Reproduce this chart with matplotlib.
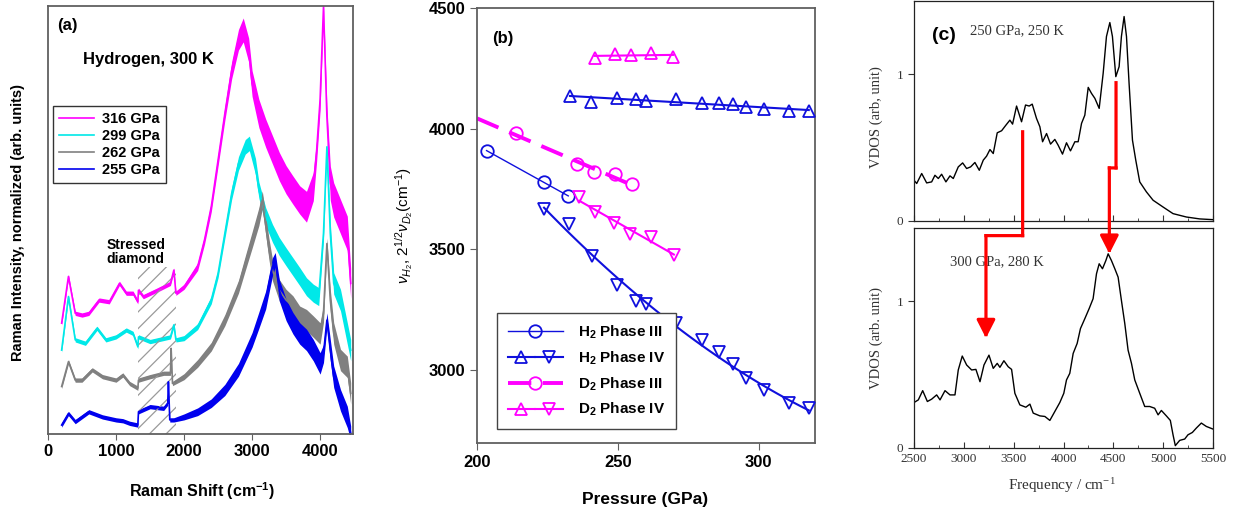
import numpy as np
import matplotlib
matplotlib.use('Agg')
import matplotlib.pyplot as plt
from matplotlib.patches import Rectangle, ConnectionPatch
from matplotlib.legend_handler import HandlerTuple
from matplotlib.lines import Line2D
from matplotlib.ticker import MultipleLocator

plt.rcParams['font.family'] = ['Liberation Sans', 'DejaVu Sans']
plt.rcParams['mathtext.fontset'] = 'custom'
plt.rcParams['mathtext.rm'] = 'Liberation Sans'
plt.rcParams['mathtext.it'] = 'Liberation Sans:italic'
plt.rcParams['mathtext.bf'] = 'Liberation Sans:bold'
plt.rcParams['hatch.linewidth'] = 0.9

# ---------------- panel (a): Raman spectra (offset, arb. units) ----------------
SHIFT_316 = [200, 300, 400, 500, 600, 750, 900, 1050, 1150, 1250, 1320, 1330, 1400, 1600, 1800, 1850, 1880,
             2000, 2200, 2300, 2400, 2500, 2600, 2700, 2800, 2870, 2950, 3000, 3100, 3200, 3300, 3400, 3500,
             3600, 3700, 3800, 3900, 3950, 4000, 4050, 4100, 4150, 4200, 4300, 4400, 4450]
INT_316 = [25.9, 36.8, 28.2, 27.8, 28.2, 31.3, 30.9, 35.2, 32.9, 32.9, 30.9, 33.6, 32.1, 33.6, 35.2, 38.3, 32.9,
           34.4, 39.1, 45.3, 53.1, 64.0, 74.9, 85.0, 92.1, 94.4, 89.7, 81.9, 74.9, 70.3, 66.4, 62.5, 59.4,
           57.0, 54.7, 53.1, 57.8, 66.4, 78.1, 99.8, 74.2, 58.6, 54.7, 50.8, 46.9, 35.2]
NOISE_316 = [0.5, 0.5, 0.5, 0.5, 0.5, 0.5, 0.5, 0.5, 0.5, 0.5, 0.5, 0.5, 0.5, 0.5, 0.5, 0.5, 0.5,
             0.6, 0.9, 1.0, 1.2, 1.4, 1.6, 2.0, 2.4, 2.8, 2.8, 3.0, 3.3, 3.3, 3.3, 3.3, 3.3,
             3.3, 3.3, 3.6, 3.3, 2.5, 2.5, 1.0, 2.5, 4.0, 4.0, 4.0, 4.0, 3.5]

SHIFT_299 = [200, 300, 400, 550, 720, 850, 1000, 1150, 1250, 1320, 1330, 1500, 1800, 1850, 1880,
             2000, 2200, 2400, 2500, 2600, 2700, 2800, 2900, 2960, 3050, 3100, 3200, 3300, 3400, 3500,
             3600, 3700, 3800, 3900, 3980, 4050, 4100, 4150, 4200, 4300, 4400, 4450]
INT_299 = [19.6, 32.1, 22.0, 21.2, 24.7, 22.0, 22.7, 24.3, 23.5, 20.4, 22.7, 21.6, 22.7, 25.5, 22.0,
           22.4, 25.1, 31.3, 37.5, 46.9, 56.2, 63.2, 67.1, 67.9, 62.5, 57.0, 50.8, 46.9, 43.8, 41.4,
           39.1, 36.8, 34.4, 32.9, 32.1, 46.9, 67.1, 46.9, 35.2, 31.3, 23.5, 19.6]
NOISE_299 = [0.5, 0.5, 0.5, 0.5, 0.5, 0.5, 0.5, 0.5, 0.5, 0.5, 0.5, 0.5, 0.5, 0.5, 0.5,
             0.6, 0.7, 0.9, 1.0, 1.2, 1.4, 1.6, 1.7, 1.7, 1.9, 1.9, 2.1, 2.1, 2.1, 2.1,
             2.1, 2.1, 2.1, 2.1, 2.1, 1.7, 1.0, 2.5, 2.5, 2.5, 2.5, 2.5]

SHIFT_262 = [200, 300, 400, 500, 650, 800, 1000, 1100, 1200, 1320, 1330, 1500, 1700, 1800, 1810, 1830,
             2000, 2200, 2400, 2600, 2800, 2900, 3000, 3100, 3150, 3250, 3300, 3400, 3500, 3600,
             3700, 3800, 3900, 4000, 4050, 4100, 4150, 4200, 4300, 4400, 4450]
INT_262 = [11.1, 16.9, 12.6, 12.6, 15.0, 13.4, 12.6, 13.8, 11.8, 10.7, 12.6, 13.4, 14.2, 14.2, 20.0, 11.8,
           13.4, 16.5, 20.4, 26.6, 34.4, 39.9, 45.3, 50.8, 54.7, 43.0, 38.3, 33.6, 31.3, 29.8,
           27.4, 26.6, 25.1, 23.5, 28.2, 44.5, 31.3, 23.5, 17.3, 15.7, 9.5]
NOISE_262 = [0.5, 0.5, 0.5, 0.5, 0.5, 0.5, 0.5, 0.5, 0.5, 0.5, 0.5, 0.5, 0.5, 0.5, 0.5, 0.5,
             0.7, 0.9, 1.0, 1.3, 1.5, 1.7, 1.9, 2.1, 2.1, 2.5, 2.5, 2.5, 2.5, 2.5,
             2.5, 2.5, 2.5, 2.5, 2.1, 1.3, 2.5, 2.5, 2.5, 2.5, 2.5]

SHIFT_255 = [200, 300, 400, 600, 800, 1000, 1100, 1200, 1320, 1330, 1500, 1700, 1760, 1770, 1790, 1850,
             2000, 2200, 2400, 2600, 2800, 3000, 3100, 3200, 3300, 3340, 3400, 3500, 3600, 3700,
             3800, 3900, 4000, 4050, 4100, 4150, 4200, 4300, 4400, 4450]
INT_255 = [2.1, 4.8, 2.9, 5.2, 4.0, 3.3, 3.1, 2.5, 2.1, 5.2, 6.4, 6.0, 7.2, 12.2, 3.3, 3.3,
           4.0, 5.2, 7.2, 10.3, 15.0, 22.0, 26.6, 31.3, 39.1, 40.7, 33.6, 29.0, 25.9, 23.5,
           22.0, 19.6, 16.5, 18.8, 26.6, 19.6, 13.4, 7.9, 4.0, 0.2]
NOISE_255 = [0.5, 0.5, 0.5, 0.5, 0.5, 0.5, 0.5, 0.5, 0.5, 0.5, 0.5, 0.5, 0.5, 0.5, 0.5, 0.5,
             0.7, 0.9, 1.0, 1.3, 1.5, 1.7, 1.9, 2.1, 2.1, 1.7, 2.5, 2.5, 2.5, 2.5,
             2.5, 2.5, 2.5, 2.1, 1.7, 2.5, 2.5, 2.5, 2.5, 1.7]

RAMAN_LABELS = ['316 GPa', '299 GPa', '262 GPa', '255 GPa']
RAMAN_COLORS = ['#ff00ff', '#00e8e8', '#808080', '#0000ee']
STRESSED_DIAMOND = (1330, 1880)

# ---------------- panel (b): vibron frequency vs pressure ----------------
P_H2_III = [203.4, 223.8, 232.4]
NU_H2_III = [3909, 3778, 3721]
P_H2_IV_UP = [233.0, 240.3, 249.8, 256.6, 259.9, 270.6, 279.9, 285.8, 290.9, 295.6, 301.8, 310.7, 317.8]
NU_H2_IV_UP = [4135, 4112, 4128, 4123, 4116, 4123, 4108, 4108, 4102, 4089, 4082, 4075, 4073]
P_H2_IV_DN = [223.8, 232.5, 241.0, 249.8, 256.6, 259.9, 270.8, 279.9, 285.8, 290.9, 295.6, 301.8, 310.7, 317.8]
NU_H2_IV_DN = [3666, 3605, 3473, 3353, 3286, 3274, 3194, 3125, 3076, 3025, 2969, 2918, 2862, 2842]
P_D2_III = [213.8, 235.6, 241.5, 248.9, 254.9]
NU_D2_III = [3981, 3854, 3819, 3812, 3770]
P_D2_IV_UP = [241.8, 248.9, 254.8, 261.9, 269.6]
NU_D2_IV_UP = [4294, 4309, 4305, 4312, 4298]
P_D2_IV_DN = [236.3, 241.8, 248.6, 254.5, 261.9, 269.9]
NU_D2_IV_DN = [3718, 3656, 3611, 3563, 3553, 3477]

# ---------------- panel (c): VDOS ----------------
FREQ_250 = [2500, 2527, 2577, 2627, 2677, 2710, 2744, 2777, 2820, 2861, 2894, 2944, 2988, 3028, 3068, 3111,
            3155, 3195, 3228, 3262, 3295, 3335, 3379, 3422, 3462, 3489, 3529, 3579, 3619, 3656, 3686, 3729,
            3763, 3790, 3830, 3870, 3913, 3946, 3990, 4030, 4070, 4114, 4147, 4181, 4214, 4248, 4281, 4315,
            4358, 4398, 4431, 4465, 4491, 4525, 4558, 4581, 4608, 4632, 4658, 4692, 4725, 4765, 4832, 4899,
            4999, 5099, 5233, 5367, 5500]
VDOS_250 = [0.277, 0.255, 0.323, 0.259, 0.266, 0.311, 0.289, 0.318, 0.266, 0.307, 0.289, 0.368, 0.395, 0.357,
            0.368, 0.398, 0.345, 0.414, 0.441, 0.486, 0.459, 0.600, 0.614, 0.652, 0.686, 0.659, 0.782, 0.675,
            0.789, 0.782, 0.795, 0.698, 0.641, 0.539, 0.595, 0.523, 0.555, 0.516, 0.455, 0.532, 0.477, 0.539,
            0.539, 0.664, 0.720, 0.909, 0.868, 0.834, 0.766, 1.005, 1.255, 1.350, 1.255, 0.982, 1.050, 1.255,
            1.391, 1.255, 0.936, 0.550, 0.414, 0.266, 0.198, 0.141, 0.095, 0.050, 0.027, 0.014, 0.009]
FREQ_300 = [2500, 2543, 2587, 2634, 2677, 2727, 2761, 2811, 2861, 2911, 2944, 2984, 3028, 3078, 3121, 3162,
            3202, 3252, 3295, 3335, 3362, 3402, 3445, 3479, 3512, 3562, 3622, 3663, 3696, 3763, 3813, 3863,
            3913, 3963, 4003, 4030, 4063, 4097, 4137, 4170, 4214, 4257, 4297, 4331, 4358, 4391, 4425, 4448,
            4481, 4515, 4548, 4581, 4615, 4648, 4682, 4715, 4765, 4815, 4865, 4915, 4949, 4982, 5032, 5072,
            5099, 5122, 5166, 5216, 5249, 5293, 5333, 5383, 5433, 5500]
VDOS_300 = [0.310, 0.328, 0.391, 0.317, 0.333, 0.362, 0.328, 0.391, 0.362, 0.362, 0.532, 0.627, 0.566, 0.532,
            0.536, 0.452, 0.566, 0.633, 0.543, 0.577, 0.550, 0.595, 0.554, 0.536, 0.373, 0.294, 0.278, 0.299,
            0.238, 0.219, 0.215, 0.188, 0.249, 0.310, 0.373, 0.464, 0.509, 0.645, 0.713, 0.814, 0.882, 0.950,
            1.018, 1.188, 1.256, 1.222, 1.278, 1.324, 1.278, 1.222, 1.165, 1.007, 0.848, 0.667, 0.577, 0.464,
            0.373, 0.283, 0.283, 0.271, 0.226, 0.256, 0.219, 0.188, 0.090, 0.016, 0.052, 0.061, 0.090, 0.106,
            0.136, 0.170, 0.147, 0.129]

# red guide arrows: (x, y) in panel-c data units, 'u' = upper panel, 'l' = lower panel
ARROW_1 = [((3590, 0.607), 'u'), ((3590, 1.448), 'l'), ((3222, 1.448), 'l'), ((3222, 0.749), 'l')]
ARROW_2 = [((4527, 0.941), 'u'), ((4527, 0.361), 'u'), ((4460, 0.361), 'u'), ((4460, 1.324), 'l')]

BLUE = '#1010dd'
MAGENTA = '#ff00ff'
SPINE = '#606060'

fig = plt.figure(figsize=(12.38, 5.12), dpi=100)

# ================= (a) =================
ax_a = fig.add_axes([0.0388, 0.1523, 0.2464, 0.836])
spectra = [(SHIFT_316, INT_316, NOISE_316), (SHIFT_299, INT_299, NOISE_299),
           (SHIFT_262, INT_262, NOISE_262), (SHIFT_255, INT_255, NOISE_255)]
for (s, y, n), col, lab in zip(spectra, RAMAN_COLORS, RAMAN_LABELS):
    s = np.array(s)
    y = np.array(y)
    n = np.array(n)
    ax_a.fill_between(s, y - n, y + n, color=col, lw=0)
    ax_a.plot(s, y, color=col, lw=1.2, label=lab)
ax_a.add_patch(Rectangle((STRESSED_DIAMOND[0], 0), STRESSED_DIAMOND[1] - STRESSED_DIAMOND[0], 39,
                         fill=False, hatch='//', edgecolor='#9a9a9a', lw=0))
ax_a.set_xlim(0, 4485)
ax_a.set_ylim(0, 100)
ax_a.set_yticks([])
ax_a.set_xticks([0, 1000, 2000, 3000, 4000])
ax_a.tick_params(axis='x', direction='out', length=4, color=SPINE, labelsize=12)
for t in ax_a.get_xticklabels():
    t.set_fontweight('bold')
for sp in ax_a.spines.values():
    sp.set_color(SPINE)
    sp.set_linewidth(1.3)
ax_a.set_xlabel(r'Raman Shift (cm$^{\mathbf{-1}}$)', fontsize=11.5, fontweight='bold')
ax_a.xaxis.set_label_coords(0.505, -0.107)
ax_a.set_ylabel('Raman Intensity, normalized (arb. units)', fontsize=10.5, fontweight='bold')
ax_a.yaxis.set_label_coords(-0.075, 0.495)
ax_a.text(0.03, 0.955, '(a)', transform=ax_a.transAxes, fontsize=12, fontweight='bold', va='center')
ax_a.text(0.115, 0.875, 'Hydrogen, 300 K', transform=ax_a.transAxes, fontsize=12, fontweight='bold', va='center')
ax_a.text(1290, 42.5, 'Stressed\ndiamond', fontsize=10, fontweight='bold', ha='center', va='center',
          linespacing=1.0)
leg_a = ax_a.legend(loc='upper left', bbox_to_anchor=(0.016, 0.766), borderaxespad=0, handlelength=2.4,
                    prop=dict(weight='bold', size=10.5), labelspacing=0.2, fancybox=False,
                    edgecolor='#333333', framealpha=1, borderpad=0.4, handletextpad=0.6)
leg_a.get_frame().set_linewidth(1.0)

# ================= (b) =================
ax_b = fig.add_axes([0.3853, 0.1348, 0.2730, 0.8496])


def fit_line(p, nu, deg, color, ls, lw, start=None):
    coef = np.polyfit(p, nu, deg)
    xs = np.linspace(min(p) if start is None else start, max(p), 60)
    ax_b.plot(xs, np.polyval(coef, xs), color=color, ls=ls, lw=lw, zorder=2)


fit_line(P_H2_III, NU_H2_III, 1, BLUE, '-', 1.0)
fit_line(P_H2_IV_UP, NU_H2_IV_UP, 1, BLUE, '-', 1.5)
fit_line(P_H2_IV_DN, NU_H2_IV_DN, 2, BLUE, '-', 1.5)
fit_line(P_D2_III, NU_D2_III, 1, MAGENTA, (0, (6, 3)), 2.8, start=200)
fit_line(P_D2_IV_UP, NU_D2_IV_UP, 1, MAGENTA, '-', 1.5)
fit_line(P_D2_IV_DN, NU_D2_IV_DN, 1, MAGENTA, '-', 1.5)

mk = dict(ls='none', mfc='none', ms=9, mew=1.3, zorder=3)
ax_b.plot(P_H2_III, NU_H2_III, marker='o', mec=BLUE, **mk)
ax_b.plot(P_H2_IV_UP, NU_H2_IV_UP, marker='^', mec=BLUE, **mk)
ax_b.plot(P_H2_IV_DN, NU_H2_IV_DN, marker='v', mec=BLUE, **mk)
ax_b.plot(P_D2_III, NU_D2_III, marker='o', mec=MAGENTA, **mk)
ax_b.plot(P_D2_IV_UP, NU_D2_IV_UP, marker='^', mec=MAGENTA, **mk)
ax_b.plot(P_D2_IV_DN, NU_D2_IV_DN, marker='v', mec=MAGENTA, **mk)

ax_b.set_xlim(200, 320)
ax_b.set_ylim(2698, 4500)
ax_b.set_xticks([200, 250, 300])
ax_b.set_yticks([3000, 3500, 4000, 4500])
ax_b.tick_params(direction='out', length=5, color=SPINE, labelsize=12)
for t in ax_b.get_xticklabels() + ax_b.get_yticklabels():
    t.set_fontweight('bold')
for sp in ax_b.spines.values():
    sp.set_color(SPINE)
    sp.set_linewidth(1.3)
ax_b.set_xlabel('Pressure (GPa)', fontsize=12.5, fontweight='bold')
ax_b.xaxis.set_label_coords(0.497, -0.113)
ax_b.set_ylabel(r'$\nu_{H_2}$, $2^{1/2}\nu_{D_2}$(cm$^{-1}$)', fontsize=11)
ax_b.yaxis.set_label_coords(-0.183, 0.5)
ax_b.text(0.044, 0.93, '(b)', transform=ax_b.transAxes, fontsize=12, fontweight='bold', va='center')

lh = dict(mfc='none', ms=9, mew=1.3)
h_h2_iii = Line2D([], [], color=BLUE, lw=1.0, marker='o', mec=BLUE, **lh)
h_h2_iv = (Line2D([], [], color=BLUE, lw=1.5, marker='^', mec=BLUE, **lh),
           Line2D([], [], color=BLUE, lw=1.5, marker='v', mec=BLUE, **lh))
h_d2_iii = Line2D([], [], color=MAGENTA, lw=2.8, ls=(0, (6, 3)), marker='o', mec=MAGENTA, **lh)
h_d2_iv = (Line2D([], [], color=MAGENTA, lw=1.5, marker='^', mec=MAGENTA, **lh),
           Line2D([], [], color=MAGENTA, lw=1.5, marker='v', mec=MAGENTA, **lh))
leg_b = ax_b.legend([h_h2_iii, h_h2_iv, h_d2_iii, h_d2_iv],
                    [r'H$_\mathbf{2}$ Phase III', r'H$_\mathbf{2}$ Phase IV',
                     r'D$_\mathbf{2}$ Phase III', r'D$_\mathbf{2}$ Phase IV'],
                    handler_map={tuple: HandlerTuple(ndivide=None, pad=0)},
                    loc='upper left', bbox_to_anchor=(0.059, 0.299), borderaxespad=0, handlelength=3.6,
                    prop=dict(weight='bold', size=11), labelspacing=0.55, fancybox=False,
                    edgecolor='#444444', framealpha=1, borderpad=0.7, handletextpad=1.0)
leg_b.get_frame().set_linewidth(1.0)

# ================= (c) =================
ax_c1 = fig.add_axes([0.7383, 0.5684, 0.2415, 0.4306])
ax_c2 = fig.add_axes([0.7383, 0.125, 0.2415, 0.4297])
ax_c1.plot(FREQ_250, VDOS_250, color='black', lw=1.0)
ax_c2.plot(FREQ_300, VDOS_300, color='black', lw=1.0)
for ax in (ax_c1, ax_c2):
    ax.set_xlim(2500, 5500)
    ax.set_ylim(0, 1.5)
    ax.set_yticks([0, 1])
    ax.xaxis.set_major_locator(MultipleLocator(500))
    ax.xaxis.set_minor_locator(MultipleLocator(250))
    ax.tick_params(axis='x', which='both', direction='in', colors='#333333', labelsize=9.5)
    ax.tick_params(axis='x', which='major', length=4)
    ax.tick_params(axis='x', which='minor', length=2.5)
    ax.tick_params(axis='y', direction='out', length=4, colors='#333333', labelsize=9.5)
    for sp in ax.spines.values():
        sp.set_linewidth(0.9)
        sp.set_color('#222222')
    for t in ax.get_xticklabels() + ax.get_yticklabels():
        t.set_fontfamily('Liberation Serif')
ax_c1.tick_params(axis='x', labelbottom=False)
ax_c1.set_ylabel('VDOS (arb, unit)', fontsize=10.5, family='Liberation Serif', color='#333333')
ax_c1.yaxis.set_label_coords(-0.104, 0.47)
ax_c2.set_ylabel('VDOS (arb. unit)', fontsize=10.5, family='Liberation Serif', color='#333333')
ax_c2.yaxis.set_label_coords(-0.104, 0.5)
ax_c2.set_xlabel(r'Frequency / cm$^{\mathregular{-1}}$', fontsize=11, family='Liberation Serif',
                 color='#333333')
ax_c2.xaxis.set_label_coords(0.495, -0.123)
ax_c1.text(0.06, 0.84, '(c)', transform=ax_c1.transAxes, fontsize=14, fontweight='bold', va='center')
ax_c1.text(0.187, 0.864, '250 GPa, 250 K', transform=ax_c1.transAxes, fontsize=10.5,
           family='Liberation Serif', color='#333333', va='center')
ax_c2.text(0.12, 0.845, '300 GPa, 280 K', transform=ax_c2.transAxes, fontsize=10.5,
           family='Liberation Serif', color='#333333', va='center')

panel = {'u': ax_c1, 'l': ax_c2}
for arrow in (ARROW_1, ARROW_2):
    for i in range(len(arrow) - 1):
        (p1, a1), (p2, a2) = arrow[i], arrow[i + 1]
        last = i == len(arrow) - 2
        style = '-|>,head_length=0.55,head_width=0.28' if last else '-'
        cp = ConnectionPatch(xyA=p1, coordsA=panel[a1].transData, xyB=p2, coordsB=panel[a2].transData,
                             arrowstyle=style, color='#ff0000', lw=2.3, mutation_scale=20,
                             capstyle='projecting', zorder=5)
        fig.add_artist(cp)

fig.savefig('out.png', dpi=100)
